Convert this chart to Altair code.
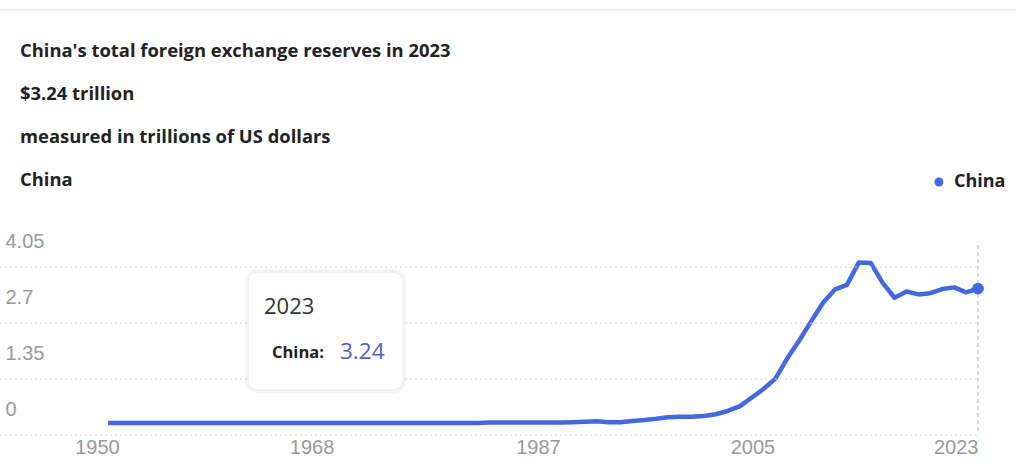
import altair as alt
import pandas as pd

# ---- data ----
YEARS = list(range(1950, 2024))
RESERVES = [
    0.00, 0.00, 0.00, 0.00, 0.00, 0.00, 0.00, 0.00, 0.00, 0.00,   # 1950s
    0.00, 0.00, 0.00, 0.00, 0.00, 0.00, 0.00, 0.00, 0.00, 0.00,   # 1960s
    0.00, 0.00, 0.00, 0.00, 0.00, 0.00, 0.00, 0.00, 0.00, 0.00,   # 1970s
    0.00, 0.00, 0.01, 0.01, 0.01, 0.01, 0.01, 0.01, 0.01, 0.02,   # 1980s
    0.03, 0.04, 0.02, 0.02, 0.05, 0.07, 0.10, 0.14, 0.15, 0.15,   # 1990s
    0.17, 0.21, 0.29, 0.40, 0.61, 0.82, 1.07, 1.56, 1.99, 2.45,   # 2000s
    2.90, 3.22, 3.33, 3.87, 3.86, 3.38, 3.02, 3.17, 3.10, 3.13,   # 2010s
    3.23, 3.27, 3.15, 3.24,                                       # 2020s
]
SERIES = "China"
TITLE_LINES = [
    "China's total foreign exchange reserves in 2023",
    "$3.24 trillion",
    "measured in trillions of US dollars",
    "China",
]
Y_TICKS = [0, 1.35, 2.7, 4.05]
X_TICKS = [1950, 1968, 1987, 2005, 2023]

# ---- styles ----
BLUE = "#4468e0"
W, H = 1016, 437
TITLE_FONT = "Open Sans"
AXIS_FONT = "Liberation Sans"

df = pd.DataFrame({"year": YEARS, "value": RESERVES, "series": SERIES})
last = df.tail(1).reset_index(drop=True)

xscale = alt.Scale(domain=[YEARS[0], YEARS[-1]], range=[108, 978], nice=False, zero=False)
yscale = alt.Scale(domain=[Y_TICKS[0], Y_TICKS[-1]], range=[423, 255], nice=False, zero=False)

x_axis = alt.Axis(
    values=X_TICKS, format="d", title=None, grid=False, domain=False, ticks=False,
    tickSize=0, labelPadding=0, labelFontSize=20, labelColor="#9a9a9a",
    labelFont=AXIS_FONT, labelFlush=False, labelOverlap=False, labelBound=False,
    labelOffset={"condition": {"test": "datum.value >= 2023", "value": 0}, "value": -11},
    labelAlign={"condition": {"test": "datum.value >= 2023", "value": "right"}, "value": "center"},
)
y_axis = alt.Axis(
    values=Y_TICKS, labelExpr="'' + datum.value", title=None, grid=False, domain=False,
    ticks=False, tickSize=0, labelPadding=0, offset=-5, labelAlign="left", labelOffset=-14,
    labelFontSize=20, labelColor="#9a9a9a", labelFont=AXIS_FONT, labelFlush=False,
    labelOverlap=False,
)

line = alt.Chart(df).mark_line(color=BLUE, strokeWidth=4.5, strokeJoin="round").encode(
    x=alt.X("year:Q", scale=xscale, axis=x_axis),
    y=alt.Y("value:Q", scale=yscale, axis=y_axis),
)

top_border = alt.Chart(pd.DataFrame({"k": [0]})).mark_rule(
    color="#f1f1f1", strokeWidth=2
).encode(x=alt.value(0), x2=alt.value(W), y=alt.value(10))

grid = alt.Chart(pd.DataFrame({"value": Y_TICKS})).mark_rule(
    strokeDash=[2, 3], color="#d6d6d6", strokeWidth=1, yOffset=12
).encode(
    y=alt.Y("value:Q", scale=yscale),
    x=alt.value(0), x2=alt.value(980),
)

crosshair = alt.Chart(last).mark_rule(
    strokeDash=[4, 3], color="#b5b5b5", strokeWidth=1
).encode(
    x=alt.X("year:Q", scale=xscale),
    y=alt.value(245), y2=alt.value(432),
)

point = alt.Chart(last).mark_point(filled=True, size=140, opacity=1).encode(
    x=alt.X("year:Q", scale=xscale),
    y=alt.Y("value:Q", scale=yscale),
    color=alt.Color(
        "series:N",
        scale=alt.Scale(domain=[SERIES], range=[BLUE]),
        legend=alt.Legend(
            orient="none", legendX=930, legendY=173, title=None, padding=0,
            symbolType="circle", symbolSize=80, symbolStrokeWidth=0,
            labelFont=TITLE_FONT, labelFontSize=18, labelFontWeight="bold",
            labelColor="#222222", labelOffset=6,
        ),
    ),
)

tip_shadow = alt.Chart(last).mark_rect(
    fill="#000000", opacity=0.035, cornerRadius=12
).encode(x=alt.value(245), x2=alt.value(406), y=alt.value(269), y2=alt.value(393))

tip_box = alt.Chart(last).mark_rect(
    fill="#ffffff", stroke="#ececec", strokeWidth=1, cornerRadius=10
).encode(x=alt.value(248), x2=alt.value(403), y=alt.value(272), y2=alt.value(390))

tip_year = alt.Chart(last).mark_text(
    align="left", baseline="middle", font="Open Sans", fontSize=22, color="#333333"
).encode(x=alt.value(264), y=alt.value(307), text=alt.Text("year:Q", format="d"))

tip_name = alt.Chart(last).transform_calculate(lab="datum.series + ':'").mark_text(
    align="left", baseline="middle", font=TITLE_FONT, fontSize=16.5, fontWeight="bold",
    color="#222222",
).encode(x=alt.value(272), y=alt.value(353), text="lab:N")

tip_val = alt.Chart(last).mark_text(
    align="left", baseline="middle", font="Open Sans", fontSize=22.5, color="#4d63c4"
).encode(x=alt.value(340), y=alt.value(352), text=alt.Text("value:Q", format=".2f"))

title_layers = []
for txt, ypos in zip(TITLE_LINES, [51, 94, 137, 180]):
    title_layers.append(
        alt.Chart(pd.DataFrame({"t": [txt]})).mark_text(
            align="left", baseline="middle", font=TITLE_FONT, fontSize=18.4,
            fontWeight="bold", color="#222222",
        ).encode(x=alt.value(20), y=alt.value(ypos), text="t:N")
    )

chart = alt.layer(
    line, top_border, grid, crosshair, point,
    tip_shadow, tip_box, tip_year, tip_name, tip_val, *title_layers,
).properties(
    width=W, height=H,
    autosize=alt.AutoSizeParams(type="none"),
    padding={"left": 0, "top": 0, "right": 0, "bottom": 31},
    background="#ffffff",
).configure_view(stroke=None)

chart.save("out.html", embed_options={"renderer": "svg", "actions": False})
